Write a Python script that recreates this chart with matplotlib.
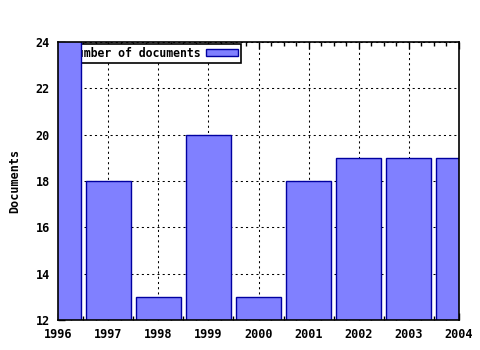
import matplotlib
matplotlib.use("Agg")
import matplotlib.pyplot as plt
from matplotlib.ticker import MultipleLocator

years = [1996, 1997, 1998, 1999, 2000, 2001, 2002, 2003, 2004]
documents = [25, 18, 13, 20, 13, 18, 19, 19, 19]
year_labels = [str(y) for y in years]
y_ticks = [12, 14, 16, 18, 20, 22, 24]

plt.rcParams['font.family'] = ['DejaVu Sans Mono']
plt.rcParams['font.weight'] = 'bold'
plt.rcParams['axes.labelweight'] = 'bold'

fig = plt.figure(figsize=(4.8, 3.5), dpi=100)
ax = fig.add_axes([58 / 480, 1 - 320 / 350, 401 / 480, 278 / 350])

ax.bar(years, documents, width=0.9, bottom=0, color='#8080ff',
       edgecolor='#0000a0', linewidth=1, zorder=6, label='Number of documents')

ax.set_xlim(1996, 2004)
ax.set_ylim(12, 24)
ax.set_xticks(years)
ax.set_xticklabels(year_labels)
ax.set_yticks(y_ticks)
ax.xaxis.set_minor_locator(MultipleLocator(0.25))
ax.tick_params(which='both', direction='in', top=True, right=False, labelsize=8.5, pad=6)
ax.tick_params(which='major', length=5, width=1)
ax.tick_params(which='minor', length=3, width=1)
ax.grid(True, which='major', color='black', linestyle=(0, (2, 3)), linewidth=0.75)
ax.set_axisbelow(True)
for s in ax.spines.values():
    s.set_linewidth(1.2)
    s.set_zorder(7)

ax.set_ylabel('Documents', fontsize=8.5, labelpad=10)

leg = ax.legend(loc='upper left', bbox_to_anchor=(0.022, 0.993), markerfirst=False,
                fancybox=False, framealpha=1, edgecolor='black', fontsize=8.3,
                handlelength=2.8, handleheight=0.55, borderpad=0.25, handletextpad=0.5,
                borderaxespad=0)
leg.get_frame().set_linewidth(1.2)
leg.set_zorder(5)

fig.savefig('out.png', dpi=100)
